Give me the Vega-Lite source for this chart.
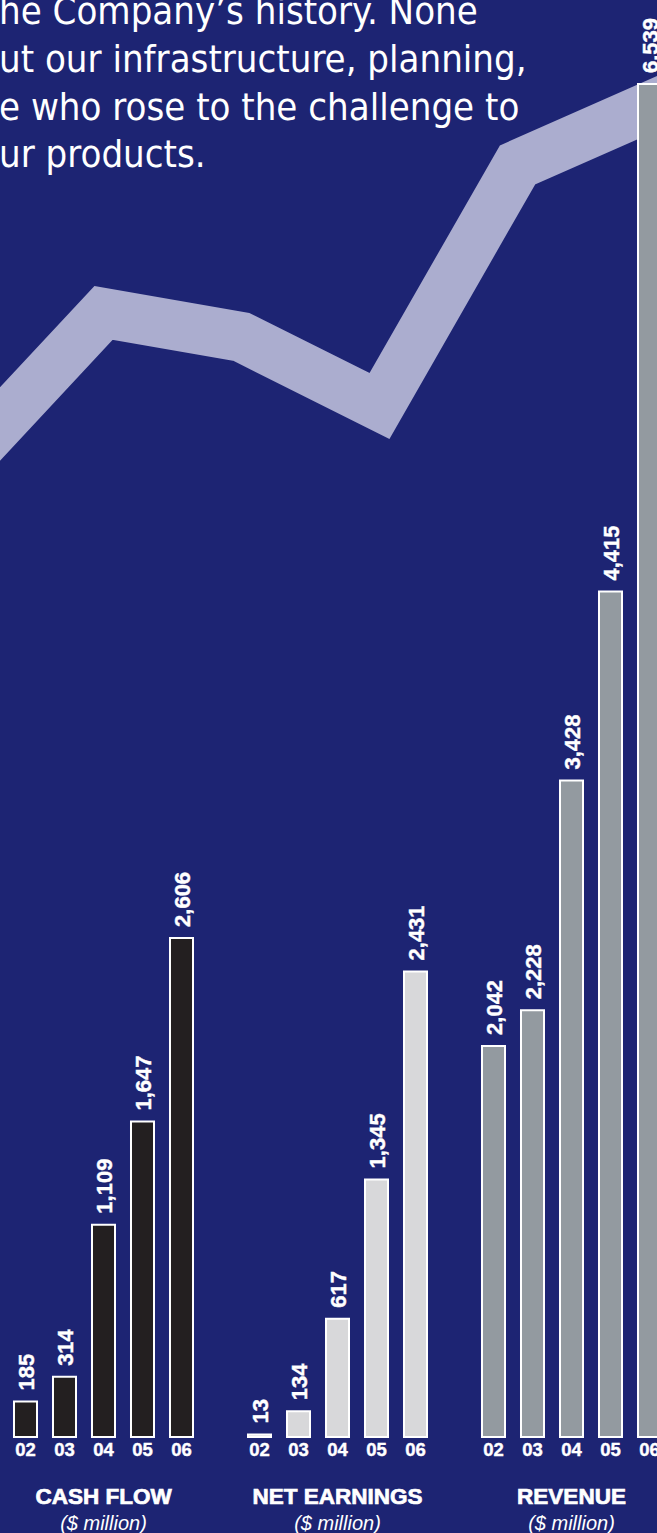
{
  "$schema": "https://vega.github.io/schema/vega-lite/v6.json",
  "width": 657,
  "height": 1437,
  "autosize": {"type": "none"},
  "padding": {"left": 0, "top": 0, "right": 0, "bottom": 96},
  "background": "#1d2473",
  "config": {"view": {"stroke": null}},
  "layer": [
    {
      "data": {"values": [
        {"t": 2001, "v": 67.92},
        {"t": 2002, "v": 78.22},
        {"t": 2003, "v": 76.55},
        {"t": 2004, "v": 71.75},
        {"t": 2005, "v": 88.52},
        {"t": 2006, "v": 92.76}
      ]},
      "mark": {"type": "line", "color": "#abadcf", "strokeWidth": 50, "strokeJoin": "miter", "strokeCap": "square"},
      "encoding": {
        "x": {"field": "t", "type": "quantitative", "scale": {"domain": [2001.25, 2006.011], "nice": false, "zero": false}, "axis": null},
        "y": {"field": "v", "type": "quantitative", "scale": {"domain": [0, 100], "nice": false, "zero": false}, "axis": null}
      }
    },
    {
      "data": {"values": [
        {"text": "he Company’s history. None\nut our infrastructure, planning,\ne who rose to the challenge to\nur products."}
      ]},
      "mark": {"type": "text", "lineBreak": "\n", "align": "left", "baseline": "alphabetic", "font": "Liberation Sans Narrow, Arial Narrow, DejaVu Sans Condensed, sans-serif", "fontSize": 38, "lineHeight": 47.8, "color": "#ffffff"},
      "encoding": {
        "text": {"field": "text"},
        "x": {"value": -1},
        "y": {"value": 24}
      }
    },
    {
      "data": {"values": [
        {"group": "CASH FLOW", "year": "02", "id": "CF02", "value": 185},
        {"group": "CASH FLOW", "year": "03", "id": "CF03", "value": 314},
        {"group": "CASH FLOW", "year": "04", "id": "CF04", "value": 1109},
        {"group": "CASH FLOW", "year": "05", "id": "CF05", "value": 1647},
        {"group": "CASH FLOW", "year": "06", "id": "CF06", "value": 2606},
        {"group": "NET EARNINGS", "year": "02", "id": "NE02", "value": 13},
        {"group": "NET EARNINGS", "year": "03", "id": "NE03", "value": 134},
        {"group": "NET EARNINGS", "year": "04", "id": "NE04", "value": 617},
        {"group": "NET EARNINGS", "year": "05", "id": "NE05", "value": 1345},
        {"group": "NET EARNINGS", "year": "06", "id": "NE06", "value": 2431},
        {"group": "REVENUE", "year": "02", "id": "RV02", "value": 2042},
        {"group": "REVENUE", "year": "03", "id": "RV03", "value": 2228},
        {"group": "REVENUE", "year": "04", "id": "RV04", "value": 3428},
        {"group": "REVENUE", "year": "05", "id": "RV05", "value": 4415},
        {"group": "REVENUE", "year": "06", "id": "RV06", "value": 6539}
      ]},
      "encoding": {
        "x": {
          "field": "id", "type": "nominal",
          "scale": {
            "domain": ["CF02", "CF03", "CF04", "CF05", "CF06", "gap1", "NE02", "NE03", "NE04", "NE05", "NE06", "gap2", "RV02", "RV03", "RV04", "RV05", "RV06"],
            "range": [6, 669], "paddingInner": 0.41, "paddingOuter": 0.205
          },
          "axis": null
        },
        "y": {
          "field": "value", "type": "quantitative",
          "scale": {"domain": [0, 5000, 6539], "range": [1437, 479.5, 84], "nice": false, "zero": false},
          "axis": null
        }
      },
      "layer": [
        {
          "mark": {"type": "bar", "stroke": "#ffffff", "strokeWidth": 2},
          "encoding": {
            "color": {
              "field": "group", "type": "nominal",
              "scale": {"domain": ["CASH FLOW", "NET EARNINGS", "REVENUE"], "range": ["#231f20", "#d8d8da", "#939aa0"]},
              "legend": null
            }
          }
        },
        {
          "mark": {"type": "text", "angle": 270, "align": "left", "baseline": "middle", "dx": 11, "dy": 1.5, "font": "Liberation Sans", "fontSize": 22, "fontWeight": "bold", "color": "#ffffff", "stroke": "#ffffff", "strokeWidth": 0.4},
          "encoding": {
            "text": {"field": "value", "type": "quantitative", "format": ","}
          }
        },
        {
          "mark": {"type": "text", "align": "center", "baseline": "alphabetic", "dy": 19, "font": "Liberation Sans", "fontSize": 18.5, "fontWeight": "bold", "color": "#ffffff", "stroke": "#ffffff", "strokeWidth": 0.4},
          "encoding": {
            "text": {"field": "year"},
            "y": {"datum": 0, "type": "quantitative"}
          }
        },
        {
          "transform": [{"filter": "datum.year === '04'"}],
          "mark": {"type": "text", "align": "center", "baseline": "alphabetic", "dy": 67, "font": "Liberation Sans", "fontSize": 22.5, "fontWeight": "bold", "color": "#ffffff", "stroke": "#ffffff", "strokeWidth": 0.7},
          "encoding": {
            "text": {"field": "group"},
            "y": {"datum": 0, "type": "quantitative"}
          }
        },
        {
          "transform": [{"filter": "datum.year === '04'"}],
          "mark": {"type": "text", "align": "center", "baseline": "alphabetic", "dy": 93, "font": "Liberation Sans", "fontSize": 20, "fontStyle": "italic", "color": "#ffffff"},
          "encoding": {
            "text": {"value": "($ million)"},
            "y": {"datum": 0, "type": "quantitative"}
          }
        }
      ]
    }
  ],
  "resolve": {"scale": {"x": "independent", "y": "independent"}}
}
